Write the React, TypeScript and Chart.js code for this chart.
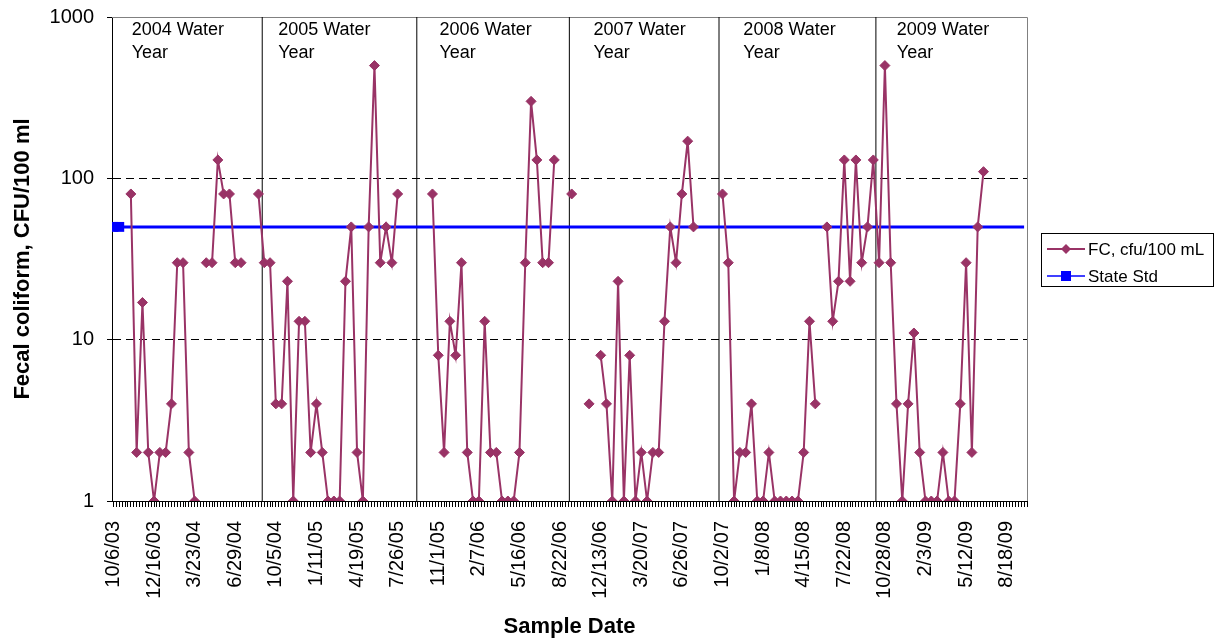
import React, { useEffect, useRef } from 'react';
import { Chart, registerables } from 'chart.js';

Chart.register(...registerables);

// ---- data ----
const tickLabels = [
  '10/6/03', '12/16/03', '3/23/04', '6/29/04', '10/5/04', '1/11/05', '4/19/05', '7/26/05',
  '11/1/05', '2/7/06', '5/16/06', '8/22/06', '12/13/06', '3/20/07', '6/26/07', '10/2/07',
  '1/8/08', '4/15/08', '7/22/08', '10/28/08', '2/3/09', '5/12/09', '8/18/09',
];
const weeksPerLabel = 14;
const lastWeek = 315;

// sample position along the (weekly) category axis; null value = break in line
const sampleWeeks = [
  6, 8, 10, 12, 14, 16, 18, 20, 22, 24, 26, 28, 30,
  32, 34, 36, 38, 40, 42, 44, 46,
  50, 52, 54, 56, 58, 60, 62, 64, 66, 68, 70, 72, 74, 76, 78, 80, 82, 84, 86, 88, 90, 92, 94, 96, 98, 104,
  110, 112, 114, 116, 118, 120, 122, 124, 126, 128, 130, 132, 134, 136, 138, 140, 142, 144, 146, 148, 150, 152,
  155, 158, 161, 164, 166,
  168, 170, 172, 174, 176, 178, 180, 182, 184, 186, 188, 190, 192, 194, 196, 198, 200, 205,
  210, 212, 214, 216, 218, 220, 222, 224, 226, 228, 230, 232, 234, 236, 238, 240, 242, 244,
  246, 248, 250, 252, 254, 256, 258, 260, 262, 264, 266, 268, 270, 272, 274, 276, 278, 280, 282, 284,
  286, 288, 290, 292, 294, 296, 298, 300,
];
const fcValues = [
  80, 2, 17, 2, 1, 2, 2, 4, 30, 30, 2, 1, null,
  30, 30, 130, 80, 80, 30, 30, null,
  80, 30, 30, 4, 4, 23, 1, 13, 13, 2, 4, 2, 1, 1, 1, 23, 50, 2, 1, 50, 500, 30, 50, 30, 80, null,
  80, 8, 2, 13, 8, 30, 2, 1, 1, 13, 2, 2, 1, 1, 1, 2, 30, 300, 130, 30, 30, 130,
  null, 80, null, 4, null,
  8, 4, 1, 23, 1, 8, 1, 2, 1, 2, 2, 13, 50, 30, 80, 170, 50, null,
  80, 30, 1, 2, 2, 4, 1, 1, 2, 1, 1, 1, 1, 1, 2, 13, 4, null,
  50, 13, 23, 130, 23, 130, 30, 50, 130, 30, 500, 30, 4, 1, 4, 11, 2, 1, 1, 1,
  2, 1, 1, 4, 30, 2, 50, 110,
];

const stateStdWeeks = [0, 2, 314];
const stateStdValues = [50, 50, 50];

const waterYearBreaks = [51.3, 104.6, 157.2, 208.8, 262.9];
const waterYearNames = ['2004', '2005', '2006', '2007', '2008', '2009'];
const waterYearLabelAt = [6.3, 56.8, 112.4, 165.5, 217.2, 270.1];

const FONT = "'Liberation Sans', Arial, Helvetica, sans-serif";
const FC_COLOR = '#993366';
const STD_COLOR = '#0000FF';

const framePlugin = {
  id: 'framePlugin',
  beforeDatasetsDraw(chart: any) {
    const { ctx, chartArea: a, scales } = chart;
    ctx.save();
    ctx.strokeStyle = '#808080';
    ctx.lineWidth = 1;
    ctx.beginPath();
    ctx.moveTo(a.left, Math.round(a.top) + 0.5);
    ctx.lineTo(Math.round(a.right) + 0.5, Math.round(a.top) + 0.5);
    ctx.lineTo(Math.round(a.right) + 0.5, a.bottom);
    ctx.stroke();
    // water year annotations
    ctx.fillStyle = '#000';
    ctx.font = `18px ${FONT}`;
    ctx.textBaseline = 'alphabetic';
    ctx.textAlign = 'left';
    waterYearNames.forEach((name, i) => {
      const x = scales.x.getPixelForValue(waterYearLabelAt[i]);
      ctx.fillText(`${name} Water`, x, a.top + 18);
      ctx.fillText('Year', x, a.top + 41);
    });
    ctx.restore();
  },
  afterDraw(chart: any) {
    const { ctx } = chart;
    ctx.save();
    // legend box
    const bx = 1041.5, by = 233.5, bw = 172, bh = 53;
    ctx.fillStyle = '#fff';
    ctx.fillRect(bx, by, bw, bh);
    ctx.strokeStyle = '#000';
    ctx.lineWidth = 1;
    ctx.strokeRect(bx, by, bw, bh);
    // FC item
    const y1 = 249, y2 = 276;
    ctx.strokeStyle = FC_COLOR;
    ctx.lineWidth = 2;
    ctx.beginPath();
    ctx.moveTo(1047, y1);
    ctx.lineTo(1085, y1);
    ctx.stroke();
    ctx.fillStyle = FC_COLOR;
    ctx.beginPath();
    ctx.moveTo(1066 - 5, y1);
    ctx.lineTo(1066, y1 - 5);
    ctx.lineTo(1066 + 5, y1);
    ctx.lineTo(1066, y1 + 5);
    ctx.closePath();
    ctx.fill();
    // State Std item
    ctx.strokeStyle = STD_COLOR;
    ctx.lineWidth = 1.5;
    ctx.beginPath();
    ctx.moveTo(1047, y2);
    ctx.lineTo(1085, y2);
    ctx.stroke();
    ctx.fillStyle = STD_COLOR;
    ctx.fillRect(1066 - 5, y2 - 5, 10, 10);
    // texts
    ctx.fillStyle = '#000';
    ctx.font = `17px ${FONT}`;
    ctx.textAlign = 'left';
    ctx.textBaseline = 'alphabetic';
    ctx.fillText('FC, cfu/100 mL', 1088, 255);
    ctx.fillText('State Std', 1088, 282);
    ctx.restore();
  },
};

export default function App() {
  const canvasRef = useRef<HTMLCanvasElement | null>(null);

  useEffect(() => {
    if (!canvasRef.current) return;
    Chart.defaults.font.family = FONT;
    Chart.defaults.color = '#000';

    const fcData = sampleWeeks.map((w, i) => ({ x: w, y: fcValues[i] }));
    const stdData = stateStdWeeks.map((w, i) => ({ x: w, y: stateStdValues[i] }));
    const breakSets = waterYearBreaks.map((b) => ({
      label: '',
      data: [{ x: b, y: 1 }, { x: b, y: 1000 }],
      borderColor: '#000',
      borderWidth: 1,
      pointRadius: 0,
      fill: false,
    }));

    const chart = new Chart(canvasRef.current, {
      type: 'line',
      data: {
        datasets: [
          {
            label: 'FC, cfu/100 mL',
            data: fcData as any,
            borderColor: FC_COLOR,
            backgroundColor: FC_COLOR,
            borderWidth: 2,
            pointStyle: 'rectRot',
            pointRadius: 5,
            pointBorderWidth: 1,
            pointBackgroundColor: FC_COLOR,
            pointBorderColor: FC_COLOR,
            spanGaps: false,
            fill: false,
          },
          {
            label: 'State Std',
            data: stdData as any,
            borderColor: STD_COLOR,
            backgroundColor: STD_COLOR,
            borderWidth: 3,
            pointStyle: 'rect',
            pointRadius: (c: any) => (c.dataIndex < 2 ? 7 : 0),
            pointBorderWidth: 0,
            pointBackgroundColor: STD_COLOR,
            fill: false,
          },
          ...breakSets,
        ] as any,
      },
      options: {
        animation: false,
        responsive: false,
        maintainAspectRatio: false,
        layout: { padding: { top: 17, right: 190, left: 0, bottom: 0 } },
        elements: { line: { tension: 0 } },
        plugins: {
          legend: { display: false },
          tooltip: { enabled: false },
        },
        scales: {
          x: {
            type: 'linear',
            min: -0.5,
            max: lastWeek,
            afterBuildTicks: (s: any) => {
              const t = [];
              for (let i = 0; i <= lastWeek; i++) t.push({ value: i });
              s.ticks = t;
            },
            afterFit: (s: any) => {
              s.height = 140;
              s.paddingLeft = 0;
              s.paddingRight = 0;
            },
            ticks: {
              autoSkip: false,
              minRotation: 90,
              maxRotation: 90,
              padding: 14,
              color: '#000',
              font: { size: 20, family: FONT },
              callback: (v: any) => {
                const n = Number(v);
                if (n % weeksPerLabel === 0) return tickLabels[n / weeksPerLabel] ?? '';
                return '';
              },
            },
            grid: {
              drawOnChartArea: false,
              drawTicks: true,
              tickLength: 6,
              tickColor: '#000',
              color: '#000',
            },
            border: { display: true, color: '#000', width: 1 },
            title: {
              display: true,
              text: 'Sample Date',
              color: '#000',
              font: { size: 22, weight: 'bold', family: FONT },
              padding: { top: 0, bottom: 1 },
            },
          },
          y: {
            type: 'logarithmic',
            min: 1,
            max: 1000,
            afterBuildTicks: (s: any) => {
              s.ticks = [1, 10, 100, 1000].map((v) => ({ value: v }));
            },
            afterFit: (s: any) => {
              s.width = 112;
              s.paddingTop = 0;
              s.paddingBottom = 0;
            },
            ticks: {
              padding: 13,
              color: '#000',
              font: { size: 20, family: FONT },
              callback: (v: any) => String(v),
            },
            grid: {
              color: (c: any) =>
                c.tick && (c.tick.value === 10 || c.tick.value === 100) ? '#000' : 'rgba(0,0,0,0)',
              tickColor: '#000',
              tickLength: 5,
              drawTicks: true,
              lineWidth: 1,
            },
            border: { display: true, color: '#000', width: 1, dash: [8, 5] },
            title: {
              display: true,
              text: 'Fecal coliform, CFU/100 ml',
              color: '#000',
              font: { size: 22, weight: 'bold', family: FONT },
              padding: { top: 10, bottom: 0 },
            },
          },
        },
      } as any,
      plugins: [framePlugin],
    });

    return () => chart.destroy();
  }, []);

  return (
    <div style={{ position: 'fixed', left: 0, top: 0, width: 1217, height: 641, background: '#fff' }}>
      <canvas ref={canvasRef} width={1217} height={641} style={{ display: 'block' }} />
    </div>
  );
}
